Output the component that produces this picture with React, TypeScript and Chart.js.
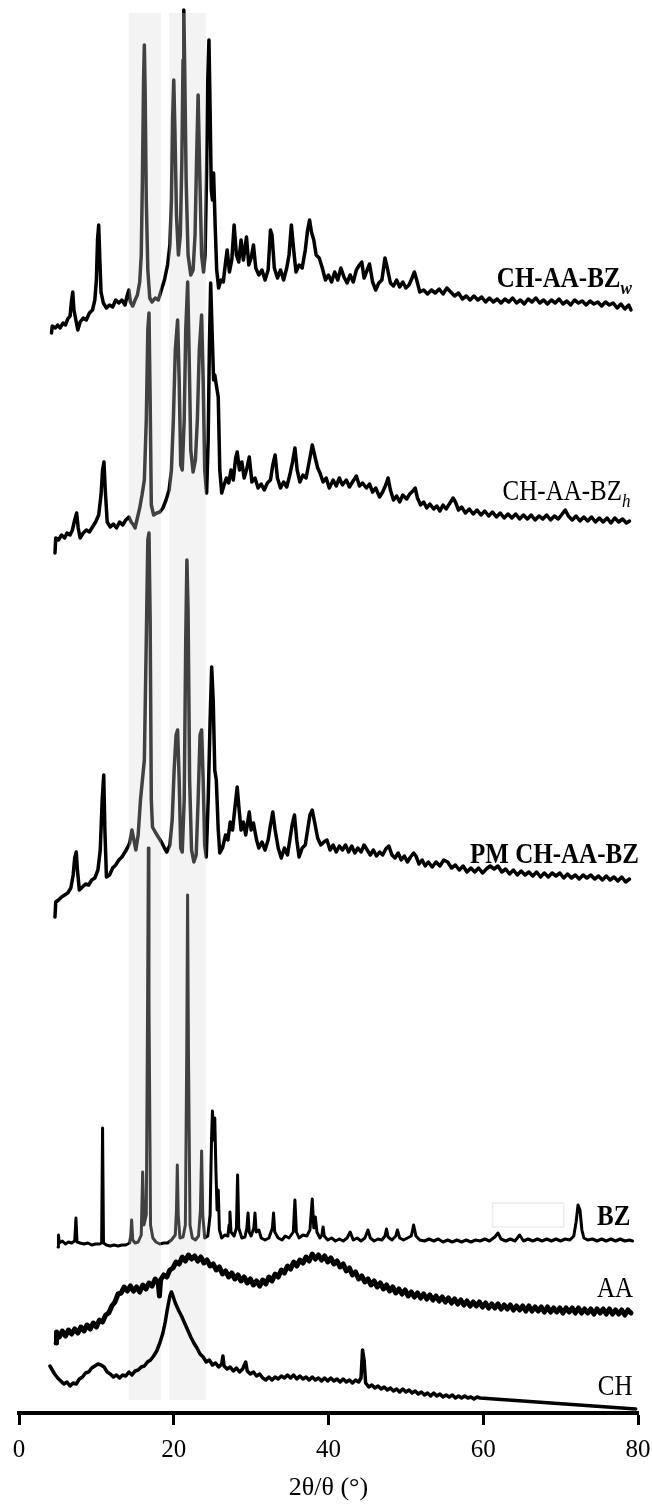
import React, { useEffect, useRef } from "react";
import { Chart, registerables } from "chart.js";

Chart.register(...registerables);

// ---- data: [2θ (°), intensity (a.u.)] ----
const seriesNames = ["CH", "AA", "BZ", "PM CH-AA-BZ", "CH-AA-BZh", "CH-AA-BZw"];
const offsets = [3, 68, 163, 493, 858, 1078];

const chPattern = [
  [4.0,44],[4.3,40],[4.6,36],[5.0,32],[5.4,29],[5.8,26],[6.2,28],[6.6,24],[7.0,27],[7.4,26],[7.8,31],[8.2,33],[8.6,37],[9.0,38],[9.4,42],[9.8,44],[10.2,46],[10.6,45],[11.0,43],[11.4,38],[11.8,36],[12.2,33],[12.6,35],[13.0,32],[13.4,35],[13.8,34],[14.2,38],[14.6,35],[15.0,39],[15.4,40],[15.8,43],[16.2,44],[16.6,48],[17.0,50],[17.4,54],[17.8,59],[18.2,67],[18.6,77],[18.9,88],[19.2,102],[19.5,114],[19.7,118],[19.9,114],[20.2,107],[20.6,100],[21.0,94],[21.4,87],[21.8,80],[22.2,73],[22.6,67],[23.0,62],[23.4,56],[23.8,53],[24.2,48],[24.6,50],[25.0,45],[25.4,47],[25.8,43],[26.2,46],[26.35,54],[26.5,44],[26.9,41],[27.3,43],[27.7,39],[28.1,42],[28.5,38],[28.9,41],[29.3,48],[29.5,39],[29.9,36],[30.3,38],[30.7,34],[31.1,36],[31.5,32],[31.9,30],[32.3,33],[32.7,30],[33.1,33],[33.5,31],[33.9,34],[34.3,32],[34.7,35],[35.1,32],[35.5,35],[35.9,31],[36.3,34],[36.7,31],[37.1,33],[37.5,30],[37.9,33],[38.3,30],[38.7,32],[39.1,29],[39.5,32],[39.9,29],[40.3,32],[40.7,29],[41.1,31],[41.5,28],[41.9,31],[42.3,28],[42.7,30],[43.1,27],[43.5,30],[43.9,28],[44.2,32],[44.4,60],[44.6,50],[44.8,27],[45.2,23],[45.6,25],[46.0,22],[46.4,24],[46.8,21],[47.2,23],[47.6,20],[48.0,22],[48.4,19],[48.8,21],[49.2,18],[49.6,21],[50.0,18],[50.4,20],[50.8,17],[51.2,19],[51.6,16],[52.0,18],[52.4,15],[52.8,17],[53.2,14],[53.6,17],[54.0,14],[54.4,16],[54.8,13],[55.2,15],[55.6,13],[56.0,15],[56.4,12],[56.8,14],[57.2,12],[57.6,14],[58.0,12],[58.4,13],[58.8,11],[59.2,13],[59.6,12],[79.7,1]
];

const aaPattern = [
  [4.8,2],[4.85,13],[5.2,8],[5.6,14],[6.0,9],[6.4,15],[6.8,11],[7.2,16],[7.6,12],[8.0,18],[8.4,14],[8.8,20],[9.2,16],[9.6,22],[10.0,18],[10.4,25],[10.8,23],[11.2,30],[11.6,32],[12.0,39],[12.4,43],[12.8,51],[13.2,52],[13.6,58],[14.0,54],[14.4,59],[14.8,54],[15.2,58],[15.6,53],[16.0,60],[16.4,56],[16.8,62],[17.2,59],[17.6,66],[18.0,62],[18.15,49],[18.3,65],[18.7,70],[19.1,68],[19.5,75],[19.9,77],[20.3,83],[20.7,81],[21.1,88],[21.5,84],[21.9,90],[22.3,86],[22.7,89],[23.1,84],[23.5,88],[23.9,82],[24.3,85],[24.7,79],[25.1,81],[25.5,75],[25.9,78],[26.3,71],[26.7,74],[27.1,68],[27.5,72],[27.9,66],[28.3,70],[28.7,64],[29.1,68],[29.5,62],[29.9,66],[30.3,60],[30.7,64],[31.1,59],[31.5,65],[31.9,61],[32.3,68],[32.7,64],[33.1,71],[33.5,68],[33.9,75],[34.3,72],[34.7,79],[35.1,76],[35.5,83],[35.9,79],[36.3,85],[36.7,82],[37.1,88],[37.5,84],[37.9,91],[38.3,86],[38.7,90],[39.1,85],[39.5,89],[39.9,83],[40.3,87],[40.7,81],[41.1,84],[41.5,78],[41.9,81],[42.3,74],[42.7,77],[43.1,70],[43.5,73],[43.9,66],[44.3,69],[44.7,63],[45.1,66],[45.5,60],[45.9,64],[46.3,58],[46.7,62],[47.1,56],[47.5,60],[47.9,54],[48.3,58],[48.7,52],[49.1,56],[49.5,51],[49.9,55],[50.3,49],[50.7,53],[51.1,48],[51.5,52],[51.9,47],[52.3,51],[52.7,46],[53.1,50],[53.5,45],[53.9,49],[54.3,44],[54.7,48],[55.1,43],[55.5,47],[55.9,42],[56.3,46],[56.7,41],[57.1,45],[57.5,40],[57.9,44],[58.3,39],[58.7,43],[59.1,39],[59.5,43],[59.9,38],[60.3,42],[60.7,37],[61.1,41],[61.5,37],[61.9,41],[62.3,36],[62.7,40],[63.1,36],[63.5,40],[63.9,35],[64.3,39],[64.7,35],[65.1,39],[65.5,34],[65.9,39],[66.3,34],[66.7,38],[67.1,34],[67.5,38],[67.9,33],[68.3,38],[68.7,33],[69.1,37],[69.5,33],[69.9,37],[70.3,32],[70.7,37],[71.1,33],[71.5,37],[71.9,32],[72.3,37],[72.7,32],[73.1,36],[73.5,32],[73.9,36],[74.3,31],[74.7,36],[75.1,32],[75.5,36],[75.9,31],[76.3,36],[76.7,31],[77.1,35],[77.5,31],[77.9,35],[78.3,30],[78.7,35],[79.1,32]
];

const bzPattern = [
  [5.05,3],[5.1,15],[5.2,7],[5.6,9],[6.0,6],[6.4,8],[6.8,7],[7.2,9],[7.36,32],[7.5,8],[7.9,7],[8.4,6],[8.9,7],[9.4,5],[9.9,6],[10.4,6],[10.68,7],[10.8,122],[10.92,7],[11.3,5],[11.8,4],[12.3,5],[12.8,4],[13.3,5],[13.8,5],[14.3,7],[14.45,15],[14.56,30],[14.7,10],[15.0,7],[15.4,8],[15.8,15],[15.98,78],[16.15,25],[16.45,35],[16.62,250],[16.71,402],[16.8,250],[17.0,25],[17.3,12],[17.7,8],[18.2,6],[18.7,7],[19.2,7],[19.7,10],[20.2,15],[20.35,40],[20.46,85],[20.58,35],[20.8,12],[21.2,13],[21.5,25],[21.68,200],[21.79,355],[21.9,200],[22.1,25],[22.4,12],[22.8,10],[23.2,14],[23.45,40],[23.6,99],[23.75,35],[24.0,12],[24.4,14],[24.7,35],[24.88,110],[25.0,139],[25.15,110],[25.3,132],[25.45,80],[25.6,40],[25.75,60],[25.9,20],[26.2,12],[26.6,15],[27.0,14],[27.15,25],[27.26,38],[27.4,18],[27.8,14],[28.1,22],[28.25,75],[28.4,22],[28.8,12],[29.2,13],[29.45,22],[29.6,37],[29.75,18],[30.0,14],[30.35,22],[30.5,37],[30.65,18],[31.0,20],[31.3,12],[31.8,10],[32.3,12],[32.75,22],[32.9,37],[33.05,18],[33.5,12],[34.0,10],[34.4,14],[34.9,12],[35.45,18],[35.66,50],[35.85,18],[36.2,12],[36.7,15],[37.2,14],[37.6,20],[37.9,51],[38.1,22],[38.3,33],[38.5,18],[38.9,12],[39.15,15],[39.3,23],[39.45,14],[39.9,10],[40.4,12],[40.9,9],[41.4,11],[41.9,9],[42.4,12],[42.8,18],[43.2,10],[43.7,12],[44.2,9],[44.7,12],[45.1,20],[45.4,12],[45.9,9],[46.4,11],[46.9,10],[47.3,14],[47.5,21],[47.7,13],[48.2,10],[48.7,14],[48.9,20],[49.2,12],[49.7,10],[50.2,12],[50.7,14],[51.0,25],[51.3,14],[51.8,10],[52.4,9],[53.0,11],[53.6,9],[54.2,11],[54.8,8],[55.4,10],[56.0,8],[56.6,10],[57.2,8],[57.8,10],[58.4,8],[59.0,10],[59.6,9],[60.2,11],[60.8,9],[61.5,13],[61.9,17],[62.3,11],[62.9,9],[63.5,11],[64.1,9],[64.7,15],[65.2,9],[65.8,11],[66.4,9],[67.0,11],[67.6,9],[68.2,11],[68.8,9],[69.4,11],[70.0,9],[70.6,11],[71.2,10],[71.7,14],[72.0,28],[72.25,45],[72.5,40],[72.75,20],[73.0,12],[73.5,10],[74.1,11],[74.7,9],[75.3,11],[75.9,9],[76.5,11],[77.1,9],[77.7,11],[78.3,9],[78.9,10],[79.3,9]
];

const pmPattern = [
  [4.65,3],[4.75,18],[5.1,20],[5.5,23],[5.9,25],[6.3,27],[6.7,32],[7.0,45],[7.2,62],[7.4,68],[7.55,50],[7.8,30],[8.2,33],[8.6,36],[9.0,35],[9.4,40],[9.8,42],[10.2,50],[10.5,70],[10.75,120],[10.95,145],[11.1,90],[11.3,43],[11.7,45],[12.1,52],[12.5,55],[12.9,60],[13.3,63],[13.7,68],[14.0,72],[14.3,77],[14.6,90],[14.85,80],[15.1,70],[15.4,85],[15.7,120],[15.95,140],[16.2,160],[16.45,280],[16.65,380],[16.8,387],[16.95,300],[17.1,120],[17.25,93],[17.6,88],[18.0,83],[18.4,78],[18.8,72],[19.1,68],[19.5,75],[19.8,100],[20.05,150],[20.3,185],[20.5,190],[20.7,140],[20.9,72],[21.1,68],[21.35,120],[21.55,280],[21.7,360],[21.85,310],[22.05,140],[22.3,70],[22.6,58],[22.9,65],[23.15,120],[23.4,185],[23.6,190],[23.8,140],[24.0,75],[24.2,63],[24.45,120],[24.7,200],[24.9,253],[25.1,220],[25.3,150],[25.5,140],[25.75,90],[25.95,67],[26.3,72],[26.7,85],[27.0,80],[27.3,98],[27.6,90],[27.9,112],[28.2,133],[28.45,110],[28.7,90],[29.0,98],[29.3,85],[29.76,108],[30.0,90],[30.3,97],[30.7,80],[31.0,72],[31.4,78],[31.8,70],[32.2,80],[32.5,95],[32.8,108],[33.1,90],[33.5,72],[33.9,62],[34.3,72],[34.7,65],[35.0,80],[35.3,95],[35.6,105],[35.9,80],[36.2,63],[36.6,72],[37.0,75],[37.3,90],[37.6,105],[37.9,110],[38.2,98],[38.6,82],[39.0,75],[39.4,78],[39.8,80],[40.2,70],[40.6,75],[41.0,68],[41.4,74],[41.8,70],[42.2,75],[42.6,68],[43.0,74],[43.4,67],[43.8,72],[44.2,68],[44.6,75],[45.0,70],[45.4,65],[45.8,70],[46.2,64],[46.6,68],[47.0,65],[47.4,71],[47.8,74],[48.2,65],[48.6,62],[49.0,67],[49.4,60],[49.8,64],[50.2,58],[50.6,63],[51.0,67],[51.3,64],[51.7,56],[52.1,60],[52.5,54],[52.9,58],[53.4,53],[53.9,58],[54.4,54],[54.9,60],[55.4,58],[55.9,52],[56.4,55],[56.9,50],[57.4,54],[57.9,48],[58.4,52],[58.9,48],[59.4,52],[59.9,47],[60.4,51],[60.9,54],[61.4,51],[61.9,54],[62.4,48],[62.9,51],[63.4,46],[63.9,50],[64.4,45],[64.9,49],[65.4,45],[65.9,48],[66.4,44],[66.9,48],[67.4,43],[67.9,47],[68.4,43],[68.9,47],[69.4,44],[69.9,47],[70.4,42],[70.9,46],[71.4,42],[71.9,45],[72.4,41],[72.9,45],[73.4,42],[73.9,45],[74.4,41],[74.9,44],[75.4,40],[75.9,44],[76.4,40],[76.9,43],[77.4,39],[77.9,43],[78.4,38],[78.9,41]
];

const hPattern = [
  [4.65,2],[4.75,17],[5.1,15],[5.5,20],[5.9,17],[6.2,22],[6.6,20],[6.9,25],[7.2,35],[7.45,42],[7.65,27],[7.9,17],[8.3,22],[8.7,25],[9.1,23],[9.5,28],[9.9,33],[10.3,40],[10.6,60],[10.8,85],[10.98,93],[11.15,65],[11.4,33],[11.8,28],[12.2,31],[12.6,27],[13.0,33],[13.4,30],[13.8,35],[14.2,38],[14.5,33],[14.8,30],[15.0,27],[15.3,37],[15.6,47],[15.9,60],[16.2,75],[16.45,135],[16.65,225],[16.8,242],[16.95,155],[17.1,50],[17.4,40],[17.8,42],[18.2,43],[18.6,47],[19.0,55],[19.4,65],[19.7,85],[19.95,135],[20.2,205],[20.5,235],[20.7,175],[20.9,90],[21.1,85],[21.35,135],[21.55,225],[21.8,273],[22.0,195],[22.2,105],[22.5,83],[22.8,95],[23.05,135],[23.3,205],[23.6,240],[23.8,175],[24.0,85],[24.25,62],[24.45,115],[24.6,205],[24.77,272],[24.95,225],[25.15,175],[25.3,180],[25.5,170],[25.75,158],[25.95,85],[26.2,62],[26.5,70],[26.8,77],[27.1,72],[27.4,85],[27.7,75],[28.0,97],[28.2,103],[28.5,85],[28.8,93],[29.1,77],[29.4,85],[29.76,98],[30.1,73],[30.5,77],[30.9,67],[31.3,71],[31.7,65],[32.1,72],[32.5,75],[32.8,90],[33.1,100],[33.4,77],[33.8,67],[34.2,73],[34.6,68],[35.0,80],[35.35,93],[35.66,107],[35.95,85],[36.3,73],[36.7,80],[37.1,77],[37.5,93],[37.9,110],[38.2,100],[38.6,87],[38.9,82],[39.3,73],[39.7,77],[40.1,67],[40.6,75],[41.0,69],[41.4,77],[41.8,70],[42.3,75],[42.7,68],[43.1,73],[43.6,79],[44.0,69],[44.4,72],[44.9,67],[45.3,71],[45.7,63],[46.1,67],[46.6,58],[47.0,63],[47.4,70],[47.7,77],[48.0,65],[48.4,55],[48.8,59],[49.2,53],[49.6,60],[50.1,56],[50.5,61],[50.9,64],[51.2,67],[51.5,57],[51.9,50],[52.3,53],[52.7,47],[53.1,51],[53.6,46],[54.0,49],[54.4,44],[54.8,50],[55.2,46],[55.7,52],[56.1,57],[56.4,53],[56.8,45],[57.2,48],[57.7,42],[58.2,46],[58.7,41],[59.2,45],[59.7,40],[60.2,44],[60.7,39],[61.2,43],[61.7,38],[62.2,42],[62.7,37],[63.2,41],[63.7,37],[64.2,41],[64.7,36],[65.2,40],[65.7,36],[66.2,40],[66.7,35],[67.2,39],[67.7,36],[68.2,40],[68.7,35],[69.2,39],[69.7,36],[70.2,41],[70.6,45],[71.0,39],[71.5,35],[72.0,39],[72.5,34],[73.0,38],[73.5,34],[74.0,38],[74.5,33],[75.0,37],[75.5,33],[76.0,37],[76.5,32],[77.0,37],[77.5,33],[78.0,36],[78.5,32],[78.9,34]
];

const wPattern = [
  [4.2,2],[4.3,9],[4.7,7],[5.0,10],[5.3,7],[5.7,12],[6.0,10],[6.3,16],[6.6,19],[6.8,35],[6.95,43],[7.1,25],[7.3,17],[7.6,5],[7.9,13],[8.3,17],[8.7,15],[9.1,22],[9.5,25],[9.8,35],[10.0,55],[10.15,95],[10.3,110],[10.45,75],[10.6,43],[10.9,32],[11.3,27],[11.7,30],[12.1,28],[12.5,35],[12.9,32],[13.3,35],[13.7,30],[14.0,40],[14.2,45],[14.4,33],[14.7,29],[15.0,35],[15.3,40],[15.6,53],[15.8,80],[15.95,155],[16.1,255],[16.2,290],[16.3,245],[16.45,135],[16.65,65],[16.9,37],[17.2,33],[17.6,37],[18.0,35],[18.4,45],[18.8,55],[19.2,70],[19.5,90],[19.7,135],[19.85,215],[20.0,255],[20.15,205],[20.35,120],[20.6,80],[20.85,100],[21.05,175],[21.2,275],[21.3,325],[21.4,275],[21.6,155],[21.85,80],[22.2,60],[22.5,65],[22.75,100],[22.95,175],[23.15,240],[23.35,165],[23.6,80],[23.85,63],[24.05,80],[24.25,165],[24.4,255],[24.55,295],[24.7,225],[24.85,145],[25.0,135],[25.15,162],[25.35,110],[25.55,65],[25.8,47],[26.1,55],[26.4,53],[26.7,73],[26.9,85],[27.2,63],[27.5,75],[27.8,110],[28.1,80],[28.4,73],[28.7,95],[29.0,75],[29.4,98],[29.7,70],[30.0,77],[30.3,90],[30.6,67],[31.0,60],[31.4,65],[31.8,55],[32.2,65],[32.5,105],[32.7,100],[33.0,67],[33.4,57],[33.8,65],[34.2,55],[34.6,67],[34.9,80],[35.2,110],[35.5,85],[35.8,63],[36.2,70],[36.6,67],[37.0,85],[37.3,105],[37.55,115],[37.8,103],[38.1,95],[38.4,80],[38.8,77],[39.2,67],[39.6,55],[40.0,60],[40.4,53],[40.8,63],[41.2,55],[41.6,67],[42.0,58],[42.4,52],[42.8,60],[43.2,53],[43.6,65],[44.0,70],[44.3,73],[44.6,57],[45.0,65],[45.3,71],[45.7,53],[46.1,45],[46.5,52],[46.9,55],[47.3,77],[47.6,67],[48.0,52],[48.4,49],[48.8,55],[49.2,48],[49.6,53],[50.0,47],[50.4,50],[50.8,57],[51.1,63],[51.4,55],[51.8,43],[52.3,45],[52.8,41],[53.3,45],[53.8,42],[54.3,46],[54.8,41],[55.3,47],[55.8,43],[56.3,39],[56.8,42],[57.3,36],[57.8,39],[58.3,35],[58.8,39],[59.3,35],[59.8,38],[60.3,33],[60.8,37],[61.3,33],[61.8,36],[62.3,32],[62.8,36],[63.3,33],[63.8,37],[64.3,32],[64.8,35],[65.3,31],[65.8,36],[66.3,33],[66.8,37],[67.3,32],[67.8,35],[68.3,31],[68.8,35],[69.3,32],[69.8,36],[70.3,31],[70.8,34],[71.3,30],[71.8,35],[72.3,32],[72.8,34],[73.3,30],[73.8,34],[74.3,31],[74.8,33],[75.3,29],[75.8,33],[76.3,30],[76.8,32],[77.3,27],[77.8,31],[78.3,26],[78.8,30],[79.1,25]
];

const patterns = [chPattern, aaPattern, bzPattern, pmPattern, hPattern, wPattern];

// x-axis
const xMin = 0;
const xMax = 80;
const xStep = 20;
const xTitle = "2θ/θ (°)";

// highlighted 2θ bands
const bandRanges = [[14.2, 18.35], [19.4, 24.15]];

// ---- presentation ----
const lineWidths = [3.5, 5, 3, 3.5, 3.5, 3.5];
const SERIF = '"Liberation Serif", "Times New Roman", serif';

const traceLabels = [
  { text: "CH-AA-BZ", sub: "w", x: 61.76, y: 1126, bold: true, size: 25 },
  { text: "CH-AA-BZ", sub: "h", x: 62.5, y: 913, bold: false, size: 25 },
  { text: "PM CH-AA-BZ", sub: "", x: 58.3, y: 550, bold: true, size: 25 },
  { text: "BZ", sub: "", x: 74.7, y: 188, bold: true, size: 25 },
  { text: "AA", sub: "", x: 74.7, y: 116, bold: false, size: 25 },
  { text: "CH", sub: "", x: 74.8, y: 18, bold: false, size: 25 },
];

const bandPlugin = {
  id: "bands",
  afterDatasetDraw(chart: any, args: any) {
    if (args.index !== 2) return;
    const { ctx } = chart;
    const xs = chart.scales.x;
    const ys = chart.scales.y;
    const top = ys.getPixelForValue(1400);
    const bottom = ys.getPixelForValue(13);
    ctx.save();
    ctx.fillStyle = "rgba(215,215,215,0.3)";
    for (const [a, b] of bandRanges) {
      const x1 = xs.getPixelForValue(a);
      const x2 = xs.getPixelForValue(b);
      ctx.fillRect(x1, top, x2 - x1, bottom - top);
    }
    // faint empty box near the BZ trace
    const bx1 = xs.getPixelForValue(61.2);
    const bx2 = xs.getPixelForValue(70.4);
    const by1 = ys.getPixelForValue(210);
    const by2 = ys.getPixelForValue(186);
    ctx.strokeStyle = "#ececec";
    ctx.lineWidth = 1.5;
    ctx.strokeRect(bx1, by1, bx2 - bx1, by2 - by1);
    ctx.restore();
  },
};

const labelPlugin = {
  id: "traceLabels",
  afterDraw(chart: any) {
    const { ctx } = chart;
    const xs = chart.scales.x;
    const ys = chart.scales.y;
    for (const lab of traceLabels) {
      const px = xs.getPixelForValue(lab.x);
      const py = ys.getPixelForValue(lab.y);
      ctx.save();
      ctx.fillStyle = "#000";
      ctx.textBaseline = "alphabetic";
      ctx.textAlign = "left";
      ctx.translate(px, py);
      ctx.scale(1, 1.15);
      ctx.font = `${lab.bold ? "bold " : ""}${lab.size}px ${SERIF}`;
      ctx.fillText(lab.text, 0, 0);
      if (lab.sub) {
        const w = ctx.measureText(lab.text).width;
        ctx.font = `italic ${lab.bold ? "bold " : ""}17px ${SERIF}`;
        ctx.fillText(lab.sub, w, 6);
      }
      ctx.restore();
    }
  },
};

export default function App() {
  const ref = useRef<HTMLCanvasElement | null>(null);

  useEffect(() => {
    document.body.style.margin = "0";
    const canvas = ref.current;
    if (!canvas) return;
    const datasets = patterns.map((pat, i) => ({
      label: seriesNames[i],
      data: pat.map(([t, c]) => ({ x: t, y: c + offsets[i] })),
      borderColor: "#000",
      backgroundColor: "#000",
      borderWidth: lineWidths[i],
      pointRadius: 0,
      tension: 0,
      fill: false,
      borderJoinStyle: "round" as const,
      borderCapStyle: "round" as const,
    }));
    const chart = new Chart(canvas, {
      type: "line",
      data: { datasets },
      options: {
        animation: false,
        responsive: false,
        devicePixelRatio: 1,
        layout: { padding: { left: 19, right: 14, top: 0, bottom: 0 } },
        plugins: {
          legend: { display: false },
          tooltip: { enabled: false },
        },
        scales: {
          x: {
            type: "linear",
            position: "bottom",
            min: xMin,
            max: xMax,
            ticks: {
              stepSize: xStep,
              color: "#000",
              padding: 10,
              maxRotation: 0,
              font: { family: SERIF, size: 25 },
            },
            grid: {
              display: true,
              drawOnChartArea: false,
              drawTicks: true,
              tickLength: 12,
              tickWidth: 3,
              tickColor: "#000",
            },
            border: { display: true, color: "#000", width: 4 },
            title: {
              display: true,
              text: xTitle,
              color: "#000",
              padding: 0,
              font: { family: SERIF, size: 26 },
            },
            afterFit: (s: any) => {
              s.height = 91;
              s.paddingLeft = 0;
              s.paddingRight = 0;
            },
          },
          y: { type: "linear", display: false, min: 0, max: 1413 },
        },
      },
      plugins: [bandPlugin, labelPlugin],
    } as any);
    return () => chart.destroy();
  }, []);

  return (
    <div style={{ position: "absolute", left: 0, top: 0, width: 652, height: 1504, background: "#fff" }}>
      <canvas ref={ref} width={652} height={1504} style={{ display: "block" }} />
    </div>
  );
}
